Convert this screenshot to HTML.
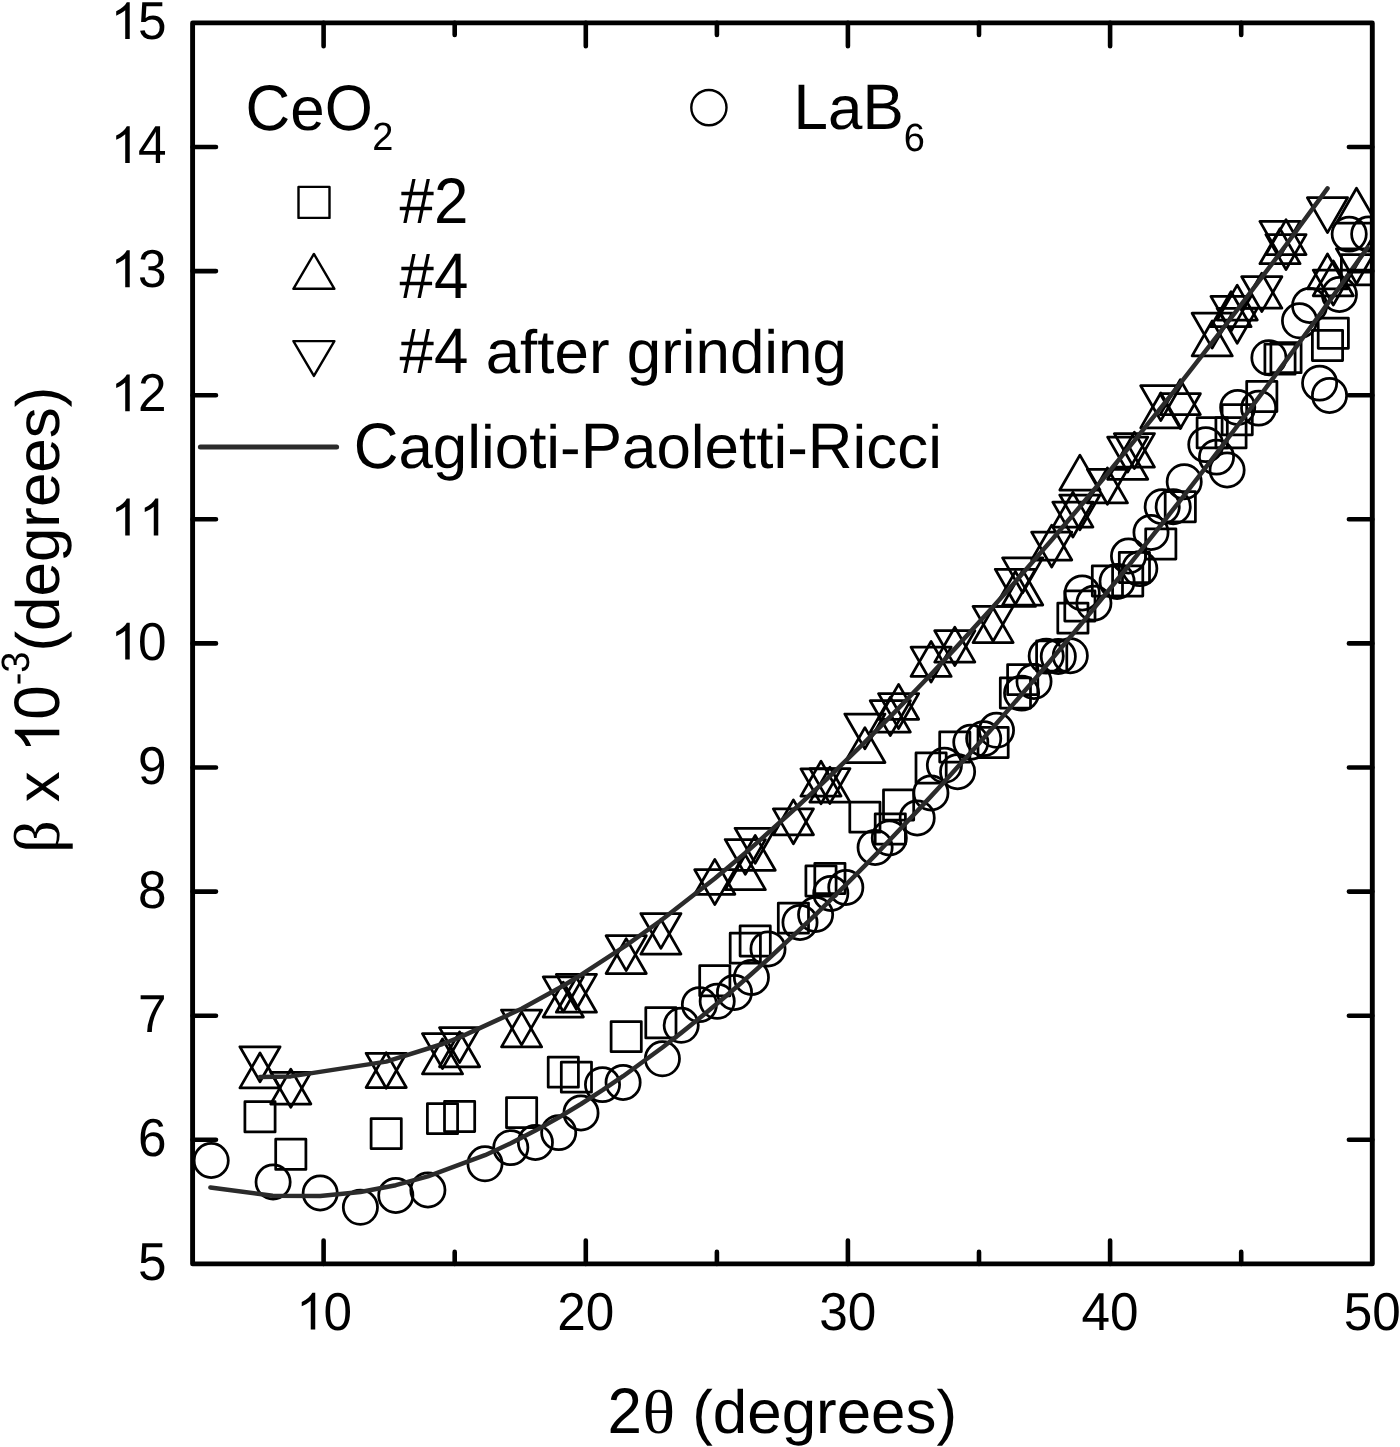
<!DOCTYPE html>
<html><head><meta charset="utf-8"><title>chart</title>
<style>
html,body{margin:0;padding:0;background:#fff;}
body{width:1400px;height:1447px;overflow:hidden;}
svg{display:block;font-family:"Liberation Sans",sans-serif;fill:#000;text-rendering:geometricPrecision;font-kerning:none;}
.sym{font-family:"Liberation Serif",serif;}
</style></head><body>
<svg width="1400" height="1447" viewBox="0 0 1400 1447">
<rect width="1400" height="1447" fill="#fff"/>
<defs><clipPath id="cp"><rect x="192.6" y="22.9" width="1179.7" height="1241.0"/></clipPath></defs>
<g clip-path="url(#cp)">
<g fill="none" stroke="#000" stroke-width="2.75" stroke-linejoin="round">
<rect x="244.9" y="1101.7" width="30.2" height="30.2"/>
<rect x="275.7" y="1139.2" width="30.2" height="30.2"/>
<rect x="371.1" y="1118.5" width="30.2" height="30.2"/>
<rect x="427.4" y="1103.5" width="30.2" height="30.2"/>
<rect x="444.5" y="1101.4" width="30.2" height="30.2"/>
<rect x="506.5" y="1097.5" width="30.2" height="30.2"/>
<rect x="548.2" y="1057.0" width="30.2" height="30.2"/>
<rect x="561.3" y="1062.0" width="30.2" height="30.2"/>
<rect x="611.1" y="1021.5" width="30.2" height="30.2"/>
<rect x="645.8" y="1007.7" width="30.2" height="30.2"/>
<rect x="699.7" y="965.6" width="30.2" height="30.2"/>
<rect x="730.2" y="933.0" width="30.2" height="30.2"/>
<rect x="740.1" y="925.9" width="30.2" height="30.2"/>
<rect x="778.3" y="903.0" width="30.2" height="30.2"/>
<rect x="805.9" y="865.9" width="30.2" height="30.2"/>
<rect x="814.8" y="863.3" width="30.2" height="30.2"/>
<rect x="849.8" y="802.0" width="30.2" height="30.2"/>
<rect x="875.2" y="813.8" width="30.2" height="30.2"/>
<rect x="883.5" y="789.9" width="30.2" height="30.2"/>
<rect x="916.0" y="752.9" width="30.2" height="30.2"/>
<rect x="939.7" y="731.9" width="30.2" height="30.2"/>
<rect x="978.0" y="727.3" width="30.2" height="30.2"/>
<rect x="1000.3" y="677.8" width="30.2" height="30.2"/>
<rect x="1007.6" y="664.5" width="30.2" height="30.2"/>
<rect x="1036.6" y="640.9" width="30.2" height="30.2"/>
<rect x="1057.8" y="603.0" width="30.2" height="30.2"/>
<rect x="1064.8" y="590.9" width="30.2" height="30.2"/>
<rect x="1092.3" y="565.9" width="30.2" height="30.2"/>
<rect x="1112.6" y="565.9" width="30.2" height="30.2"/>
<rect x="1119.3" y="552.3" width="30.2" height="30.2"/>
<rect x="1145.7" y="528.8" width="30.2" height="30.2"/>
<rect x="1165.2" y="491.6" width="30.2" height="30.2"/>
<rect x="1197.1" y="417.7" width="30.2" height="30.2"/>
<rect x="1215.9" y="417.7" width="30.2" height="30.2"/>
<rect x="1222.1" y="404.6" width="30.2" height="30.2"/>
<rect x="1246.7" y="381.3" width="30.2" height="30.2"/>
<rect x="1264.9" y="344.0" width="30.2" height="30.2"/>
<rect x="1270.9" y="342.5" width="30.2" height="30.2"/>
<rect x="1312.4" y="330.3" width="30.2" height="30.2"/>
<rect x="1318.2" y="318.1" width="30.2" height="30.2"/>
<rect x="1341.4" y="254.7" width="30.2" height="30.2"/>
<path d="M239.9 1087.9H280.1L260.0 1053.0Z"/>
<path d="M239.9 1046.8H280.1L260.0 1081.7Z"/>
<path d="M270.7 1104.0H310.9L290.8 1069.1Z"/>
<path d="M270.7 1072.4H310.9L290.8 1107.3Z"/>
<path d="M366.1 1087.5H406.3L386.2 1052.6Z"/>
<path d="M366.1 1053.3H406.3L386.2 1088.2Z"/>
<path d="M422.4 1073.9H462.6L442.5 1039.0Z"/>
<path d="M422.4 1033.6H462.6L442.5 1068.5Z"/>
<path d="M439.5 1066.8H479.7L459.6 1031.9Z"/>
<path d="M439.5 1027.6H479.7L459.6 1062.5Z"/>
<path d="M501.5 1046.9H541.7L521.6 1012.0Z"/>
<path d="M501.5 1010.0H541.7L521.6 1044.9Z"/>
<path d="M543.2 1017.0H583.4L563.3 982.1Z"/>
<path d="M543.2 976.9H583.4L563.3 1011.8Z"/>
<path d="M556.3 1012.2H596.5L576.4 977.3Z"/>
<path d="M556.3 974.4H596.5L576.4 1009.3Z"/>
<path d="M606.1 973.5H646.3L626.2 938.6Z"/>
<path d="M606.1 935.7H646.3L626.2 970.6Z"/>
<path d="M640.8 954.1H681.0L660.9 919.2Z"/>
<path d="M640.8 913.5H681.0L660.9 948.4Z"/>
<path d="M694.7 894.3H734.9L714.8 859.4Z"/>
<path d="M694.7 869.7H734.9L714.8 904.6Z"/>
<path d="M725.2 889.7H765.4L745.3 854.8Z"/>
<path d="M725.2 839.5H765.4L745.3 874.4Z"/>
<path d="M735.1 870.3H775.3L755.2 835.4Z"/>
<path d="M735.1 828.3H775.3L755.2 863.2Z"/>
<path d="M773.3 834.8H813.5L793.4 799.9Z"/>
<path d="M773.3 808.9H813.5L793.4 843.8Z"/>
<path d="M800.9 796.1H841.1L821.0 761.2Z"/>
<path d="M800.9 768.9H841.1L821.0 803.8Z"/>
<path d="M809.8 802.1H850.0L829.9 767.2Z"/>
<path d="M809.8 768.6H850.0L829.9 803.5Z"/>
<path d="M844.8 762.5H885.0L864.9 727.6Z"/>
<path d="M844.8 714.0H885.0L864.9 748.9Z"/>
<path d="M870.2 732.1H910.4L890.3 697.2Z"/>
<path d="M870.2 700.7H910.4L890.3 735.6Z"/>
<path d="M878.5 719.3H918.7L898.6 684.4Z"/>
<path d="M878.5 693.6H918.7L898.6 728.5Z"/>
<path d="M911.0 676.4H951.2L931.1 641.5Z"/>
<path d="M911.0 647.1H951.2L931.1 682.0Z"/>
<path d="M934.7 662.1H974.9L954.8 627.2Z"/>
<path d="M934.7 630.7H974.9L954.8 665.6Z"/>
<path d="M973.0 642.6H1013.2L993.1 607.7Z"/>
<path d="M973.0 606.4H1013.2L993.1 641.3Z"/>
<path d="M995.3 606.4H1035.5L1015.4 571.5Z"/>
<path d="M995.3 569.3H1035.5L1015.4 604.2Z"/>
<path d="M1002.6 605.0H1042.8L1022.7 570.1Z"/>
<path d="M1002.6 557.9H1042.8L1022.7 592.8Z"/>
<path d="M1031.6 560.0H1071.8L1051.7 525.1Z"/>
<path d="M1031.6 532.1H1071.8L1051.7 567.0Z"/>
<path d="M1052.8 527.1H1093.0L1072.9 492.2Z"/>
<path d="M1052.8 502.1H1093.0L1072.9 537.0Z"/>
<path d="M1059.8 490.0H1100.0L1079.9 455.1Z"/>
<path d="M1059.8 495.0H1100.0L1079.9 529.9Z"/>
<path d="M1087.3 502.9H1127.5L1107.4 468.0Z"/>
<path d="M1087.3 469.3H1127.5L1107.4 504.2Z"/>
<path d="M1107.6 479.3H1147.8L1127.7 444.4Z"/>
<path d="M1107.6 437.1H1147.8L1127.7 472.0Z"/>
<path d="M1114.3 467.1H1154.5L1134.4 432.2Z"/>
<path d="M1114.3 433.6H1154.5L1134.4 468.5Z"/>
<path d="M1140.7 427.9H1180.9L1160.8 393.0Z"/>
<path d="M1140.7 385.7H1180.9L1160.8 420.6Z"/>
<path d="M1160.2 414.6H1200.4L1180.3 379.7Z"/>
<path d="M1160.2 393.7H1200.4L1180.3 428.6Z"/>
<path d="M1192.1 355.9H1232.3L1212.2 321.0Z"/>
<path d="M1192.1 313.2H1232.3L1212.2 348.1Z"/>
<path d="M1210.9 326.7H1251.1L1231.0 291.8Z"/>
<path d="M1210.9 296.4H1251.1L1231.0 331.3Z"/>
<path d="M1217.1 320.0H1257.3L1237.2 285.1Z"/>
<path d="M1217.1 308.4H1257.3L1237.2 343.3Z"/>
<path d="M1241.7 308.2H1281.9L1261.8 273.3Z"/>
<path d="M1241.7 276.7H1281.9L1261.8 311.6Z"/>
<path d="M1259.9 263.7H1300.1L1280.0 228.8Z"/>
<path d="M1259.9 221.4H1300.1L1280.0 256.3Z"/>
<path d="M1265.9 254.6H1306.1L1286.0 219.7Z"/>
<path d="M1265.9 234.6H1306.1L1286.0 269.5Z"/>
<path d="M1307.4 288.9H1347.6L1327.5 254.0Z"/>
<path d="M1307.4 197.7H1347.6L1327.5 232.6Z"/>
<path d="M1313.2 295.8H1353.4L1333.3 260.9Z"/>
<path d="M1313.2 270.1H1353.4L1333.3 305.0Z"/>
<path d="M1336.4 223.1H1376.6L1356.5 188.2Z"/>
<path d="M1336.4 248.8H1376.6L1356.5 283.7Z"/>
<path d="M1353.6 270.4H1393.8L1373.7 235.5Z"/>
<circle cx="211.2" cy="1160.5" r="17.1"/>
<circle cx="273.1" cy="1182.0" r="17.1"/>
<circle cx="320.2" cy="1193.0" r="17.1"/>
<circle cx="360.4" cy="1207.3" r="17.1"/>
<circle cx="395.8" cy="1195.4" r="17.1"/>
<circle cx="427.9" cy="1190.0" r="17.1"/>
<circle cx="485.0" cy="1163.8" r="17.1"/>
<circle cx="510.8" cy="1147.6" r="17.1"/>
<circle cx="535.4" cy="1142.4" r="17.1"/>
<circle cx="558.7" cy="1132.6" r="17.1"/>
<circle cx="581.0" cy="1112.9" r="17.1"/>
<circle cx="602.5" cy="1084.6" r="17.1"/>
<circle cx="623.1" cy="1082.4" r="17.1"/>
<circle cx="662.4" cy="1058.8" r="17.1"/>
<circle cx="681.2" cy="1025.3" r="17.1"/>
<circle cx="699.4" cy="1004.6" r="17.1"/>
<circle cx="717.2" cy="1001.3" r="17.1"/>
<circle cx="734.5" cy="992.4" r="17.1"/>
<circle cx="751.4" cy="977.4" r="17.1"/>
<circle cx="768.0" cy="948.9" r="17.1"/>
<circle cx="800.0" cy="922.4" r="17.1"/>
<circle cx="815.6" cy="914.5" r="17.1"/>
<circle cx="830.8" cy="893.4" r="17.1"/>
<circle cx="845.8" cy="887.4" r="17.1"/>
<circle cx="875.1" cy="847.4" r="17.1"/>
<circle cx="889.3" cy="837.9" r="17.1"/>
<circle cx="917.2" cy="817.9" r="17.1"/>
<circle cx="930.9" cy="792.9" r="17.1"/>
<circle cx="944.4" cy="765.3" r="17.1"/>
<circle cx="957.6" cy="771.7" r="17.1"/>
<circle cx="970.8" cy="742.2" r="17.1"/>
<circle cx="983.7" cy="738.6" r="17.1"/>
<circle cx="996.5" cy="730.3" r="17.1"/>
<circle cx="1021.6" cy="693.1" r="17.1"/>
<circle cx="1034.0" cy="681.4" r="17.1"/>
<circle cx="1046.2" cy="656.1" r="17.1"/>
<circle cx="1058.3" cy="656.4" r="17.1"/>
<circle cx="1070.3" cy="655.7" r="17.1"/>
<circle cx="1082.2" cy="592.9" r="17.1"/>
<circle cx="1093.9" cy="603.1" r="17.1"/>
<circle cx="1117.1" cy="581.4" r="17.1"/>
<circle cx="1128.5" cy="556.0" r="17.1"/>
<circle cx="1139.8" cy="568.6" r="17.1"/>
<circle cx="1151.0" cy="532.4" r="17.1"/>
<circle cx="1162.2" cy="506.7" r="17.1"/>
<circle cx="1173.2" cy="506.7" r="17.1"/>
<circle cx="1184.2" cy="481.7" r="17.1"/>
<circle cx="1205.8" cy="444.6" r="17.1"/>
<circle cx="1216.5" cy="457.1" r="17.1"/>
<circle cx="1227.1" cy="470.0" r="17.1"/>
<circle cx="1237.7" cy="407.4" r="17.1"/>
<circle cx="1258.6" cy="408.1" r="17.1"/>
<circle cx="1268.9" cy="357.7" r="17.1"/>
<circle cx="1299.5" cy="320.8" r="17.1"/>
<circle cx="1309.6" cy="305.5" r="17.1"/>
<circle cx="1319.6" cy="383.1" r="17.1"/>
<circle cx="1329.5" cy="395.4" r="17.1"/>
<circle cx="1339.4" cy="294.5" r="17.1"/>
<circle cx="1349.2" cy="234.1" r="17.1"/>
<circle cx="1368.7" cy="234.0" r="17.1"/>
</g>
<g fill="none" stroke="#2b2b2b" stroke-width="4.5" stroke-linecap="round" stroke-linejoin="round">
<path d="M210.4 1187.4 L272.7 1195.8 L320.2 1196.1 L360.4 1192.0 L395.8 1185.2 L427.9 1176.4 L485.0 1155.2 L510.8 1143.2 L535.4 1130.6 L558.7 1117.5 L581.0 1104.0 L602.5 1090.2 L623.1 1076.2 L662.4 1047.5 L681.2 1032.9 L699.4 1018.3 L717.2 1003.6 L734.5 988.8 L751.4 974.0 L768.0 959.2 L800.0 929.4 L815.6 914.6 L830.8 899.7 L845.8 884.9 L875.1 855.3 L889.3 840.5 L917.2 811.1 L930.9 796.4 L944.4 781.7 L957.6 767.1 L970.8 752.5 L983.7 737.9 L996.5 723.4 L1021.6 694.5 L1034.0 680.1 L1046.2 665.7 L1058.3 651.3 L1070.3 637.0 L1082.2 622.7 L1093.9 608.4 L1117.1 580.0 L1128.5 565.8 L1139.8 551.7 L1151.0 537.6 L1162.2 523.5 L1173.2 509.4 L1184.2 495.4 L1205.8 467.4 L1216.5 453.4 L1227.1 439.4 L1237.7 425.5 L1258.6 397.7 L1268.9 383.8 L1289.3 356.1 L1299.5 342.3 L1309.6 328.5 L1319.6 314.7 L1329.5 300.9 L1339.4 287.2 L1349.2 273.4 L1367.6 247.5"/>
<path d="M260.0 1077.1 L290.8 1076.4 L386.2 1061.6 L442.5 1044.0 L459.6 1037.4 L521.6 1008.8 L563.3 985.7 L576.4 977.8 L626.2 945.4 L660.9 920.5 L714.8 878.4 L745.3 852.9 L755.2 844.4 L793.4 810.3 L821.0 784.7 L829.9 776.2 L864.9 742.1 L890.3 716.6 L898.6 708.1 L931.1 674.2 L954.8 648.9 L993.1 606.8 L1015.4 581.7 L1022.7 573.3 L1051.7 540.0 L1072.9 515.0 L1079.9 506.7 L1107.4 473.7 L1127.7 448.9 L1134.4 440.7 L1160.8 407.8 L1180.3 383.3 L1212.2 342.4 L1231.0 318.0 L1237.2 309.9 L1261.8 277.4 L1280.0 253.1 L1286.0 245.0 L1327.5 188.4"/>
</g>
</g>
<g fill="none" stroke="#000" stroke-width="4.6" stroke-linecap="round">
<path d="M192.6 1139.8h23.4M1372.3 1139.8h-23.4"/>
<path d="M192.6 1015.7h23.4M1372.3 1015.7h-23.4"/>
<path d="M192.6 891.6h23.4M1372.3 891.6h-23.4"/>
<path d="M192.6 767.5h23.4M1372.3 767.5h-23.4"/>
<path d="M192.6 643.4h23.4M1372.3 643.4h-23.4"/>
<path d="M192.6 519.3h23.4M1372.3 519.3h-23.4"/>
<path d="M192.6 395.2h23.4M1372.3 395.2h-23.4"/>
<path d="M192.6 271.1h23.4M1372.3 271.1h-23.4"/>
<path d="M192.6 147.0h23.4M1372.3 147.0h-23.4"/>
<path d="M323.6 1263.9v-23.4M323.6 22.9v23.4"/>
<path d="M454.7 1263.9v-12.0M454.7 22.9v12.0"/>
<path d="M585.8 1263.9v-23.4M585.8 22.9v23.4"/>
<path d="M716.9 1263.9v-12.0M716.9 22.9v12.0"/>
<path d="M847.9 1263.9v-23.4M847.9 22.9v23.4"/>
<path d="M979.0 1263.9v-12.0M979.0 22.9v12.0"/>
<path d="M1110.1 1263.9v-23.4M1110.1 22.9v23.4"/>
<path d="M1241.2 1263.9v-12.0M1241.2 22.9v12.0"/>
</g>
<rect x="192.6" y="22.9" width="1179.7" height="1241.0" fill="none" stroke="#000" stroke-width="4.9" stroke-linejoin="round"/>
<g>
<text transform="translate(137.97 1280.00) scale(1 1.04)" font-size="51.3">5</text>
<text transform="translate(137.97 1155.90) scale(1 1.04)" font-size="51.3">6</text>
<text transform="translate(137.97 1031.80) scale(1 1.04)" font-size="51.3">7</text>
<text transform="translate(137.97 907.70) scale(1 1.04)" font-size="51.3">8</text>
<text transform="translate(137.97 783.60) scale(1 1.04)" font-size="51.3">9</text>
<path transform="translate(110.62 659.50) scale(0.02505 -0.02505)" d="M763 0H583V1147Q518 1085 412.5 1023Q307 961 223 930V1104Q374 1175 487 1276Q600 1377 647 1472H763Z"/><text transform="translate(137.97 659.50) scale(1 1.04)" font-size="51.3">0</text>
<path transform="translate(110.62 535.40) scale(0.02505 -0.02505)" d="M763 0H583V1147Q518 1085 412.5 1023Q307 961 223 930V1104Q374 1175 487 1276Q600 1377 647 1472H763Z"/><path transform="translate(139.15 535.40) scale(0.02505 -0.02505)" d="M763 0H583V1147Q518 1085 412.5 1023Q307 961 223 930V1104Q374 1175 487 1276Q600 1377 647 1472H763Z"/>
<path transform="translate(110.62 411.30) scale(0.02505 -0.02505)" d="M763 0H583V1147Q518 1085 412.5 1023Q307 961 223 930V1104Q374 1175 487 1276Q600 1377 647 1472H763Z"/><text transform="translate(137.97 411.30) scale(1 1.04)" font-size="51.3">2</text>
<path transform="translate(110.62 287.20) scale(0.02505 -0.02505)" d="M763 0H583V1147Q518 1085 412.5 1023Q307 961 223 930V1104Q374 1175 487 1276Q600 1377 647 1472H763Z"/><text transform="translate(137.97 287.20) scale(1 1.04)" font-size="51.3">3</text>
<path transform="translate(110.62 163.10) scale(0.02505 -0.02505)" d="M763 0H583V1147Q518 1085 412.5 1023Q307 961 223 930V1104Q374 1175 487 1276Q600 1377 647 1472H763Z"/><text transform="translate(137.97 163.10) scale(1 1.04)" font-size="51.3">4</text>
<path transform="translate(110.62 39.00) scale(0.02505 -0.02505)" d="M763 0H583V1147Q518 1085 412.5 1023Q307 961 223 930V1104Q374 1175 487 1276Q600 1377 647 1472H763Z"/><text transform="translate(137.97 39.00) scale(1 1.04)" font-size="51.3">5</text>
<path transform="translate(296.14 1329.60) scale(0.02505 -0.02505)" d="M763 0H583V1147Q518 1085 412.5 1023Q307 961 223 930V1104Q374 1175 487 1276Q600 1377 647 1472H763Z"/><text transform="translate(323.49 1329.60) scale(1 1.04)" font-size="51.3">0</text>
<text transform="translate(557.13 1329.60) scale(1 1.04)" font-size="51.3">20</text>
<text transform="translate(819.31 1329.60) scale(1 1.04)" font-size="51.3">30</text>
<text transform="translate(1081.48 1329.60) scale(1 1.04)" font-size="51.3">40</text>
<text transform="translate(1343.66 1329.60) scale(1 1.04)" font-size="51.3">50</text>
</g>
<g fill="none" stroke="#000" stroke-width="2.4" stroke-linejoin="round">
<rect x="298.5" y="186.9" width="31" height="31"/>
<path d="M293.4 288.8H334.4L313.9 253.95Z"/>
<path d="M293.4 341.1H334.4L313.9 375.95Z"/>
<circle cx="708.9" cy="107.6" r="17.6"/>
</g>
<path d="M200.4 447.1H336.6" fill="none" stroke="#2b2b2b" stroke-width="5" stroke-linecap="round"/>
<g>
<text transform="translate(245.60 129.50) scale(1 1.04)" font-size="61.9">C</text><text transform="translate(290.30 129.50) scale(1 0.988)" font-size="61.9">e</text><text transform="translate(324.73 129.50) scale(1 1.04)" font-size="61.9">O</text>
<text style="filter:grayscale(1)" transform="translate(372.30 150.20) scale(1 1.04)" font-size="38">2</text>
<text transform="translate(793.60 128.90) scale(1 1.04)" font-size="61.9">L</text><text transform="translate(828.03 128.90) scale(1 0.988)" font-size="61.9">a</text><text transform="translate(862.45 128.90) scale(1 1.04)" font-size="61.9">B</text>
<text style="filter:grayscale(1)" transform="translate(903.80 151.20) scale(1 1.04)" font-size="38">6</text>
<text transform="translate(399.60 222.90) scale(1 1.04)" font-size="61.9">#2</text>
<text transform="translate(399.60 298.00) scale(1 1.04)" font-size="61.9">#4</text>
<text transform="translate(399.60 372.90) scale(1 1.04)" font-size="61.9">#4</text><text transform="translate(485.65 372.90) scale(1 0.988)" font-size="61.9">after</text><text transform="translate(626.71 372.90) scale(1 0.988)" font-size="61.9">grinding</text>
<text transform="translate(353.70 468.40) scale(1 1.04)" font-size="61.9">C</text><text transform="translate(398.40 468.40) scale(1 0.988)" font-size="61.9">aglioti-</text><text transform="translate(580.75 468.40) scale(1 1.04)" font-size="61.9">P</text><text transform="translate(622.03 468.40) scale(1 0.988)" font-size="61.9">aoletti-</text><text transform="translate(807.82 468.40) scale(1 1.04)" font-size="61.9">R</text><text transform="translate(852.53 468.40) scale(1 0.988)" font-size="61.9">icci</text>
<text transform="translate(607.60 1432.50) scale(1 1.04)" font-size="61.9">2</text>
<text class="sym" text-anchor="middle" transform="translate(658.70 1432.50) scale(1.1 1.0)" font-size="61.9">θ</text>
<text transform="translate(692.20 1432.50) scale(1 0.988)" font-size="61.9">(degrees)</text>
<g transform="translate(59.3 853.5) rotate(-90)"><text class="sym" transform="translate(0.50 0.00) scale(1.0 1.0)" font-size="64.5">β</text><text transform="translate(51.18 0.00) scale(1 0.988)" font-size="61.9">x</text><path transform="translate(100.75 0.00) scale(0.03022 -0.03022)" d="M763 0H583V1147Q518 1085 412.5 1023Q307 961 223 930V1104Q374 1175 487 1276Q600 1377 647 1472H763Z"/><text transform="translate(133.75 0.00) scale(1 1.04)" font-size="61.9">0</text><text style="filter:grayscale(1)" transform="translate(168.18 -30.40) scale(1 0.988)" font-size="38">-</text><text style="filter:grayscale(1)" transform="translate(180.83 -30.40) scale(1 1.04)" font-size="38">3</text><text transform="translate(201.97 0.00) scale(1 0.988)" font-size="61.9">(degrees)</text></g>
</g>
</svg>
</body></html>
